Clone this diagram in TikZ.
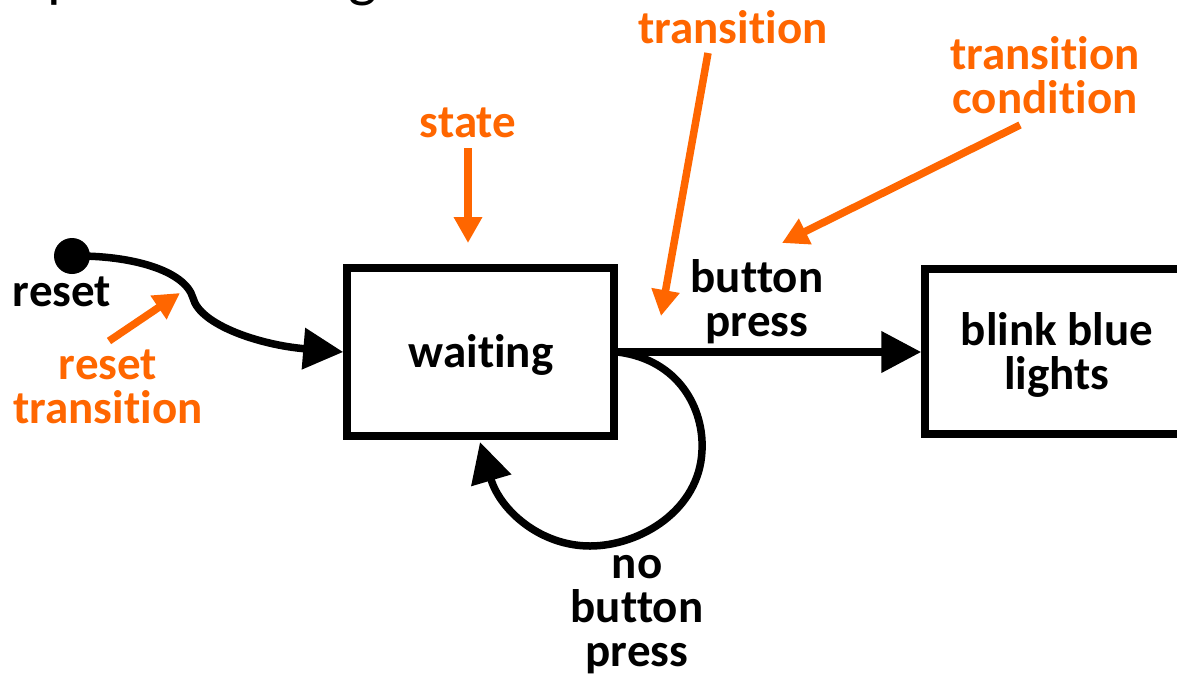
\documentclass[tikz,border=0pt]{standalone}
\usepackage{fontspec}
\setmainfont{Carlito}[RawFeature={-liga}]
\usetikzlibrary{arrows.meta}
\definecolor{accent}{RGB}{255,102,0}
\begin{document}
\begin{tikzpicture}[x=1pt,y=-1pt,
  lbl/.style={font=\bfseries\fontsize{47}{44}\selectfont, align=center, inner sep=0pt},
  note/.style={lbl, text=accent},
  statebox/.style={draw, line width=7.5pt, minimum width=267pt, minimum height=168pt, inner sep=0pt},
  flow/.style={line width=7.5pt, -{Triangle[length=40pt,width=40pt]}},
  pointer/.style={accent, line width=7.5pt, -{Triangle[length=26pt,width=27pt]}}]
\useasboundingbox (0,0) rectangle (1177,681);
\clip (0,0) rectangle (1177,681);

% heading, mostly above the visible area
\node[anchor=base west, inner sep=0pt, font=\fontsize{61}{61}\selectfont] (title) at (-86,-4.6) {Example state diagram};

% states
\node[statebox] (waiting) at (480.5,352) {};
\node[lbl] (waitingtext) at (481,355) {waiting};
\node[statebox, minimum width=275pt, minimum height=165pt] (blink) at (1062.5,351.5) {};
\node[lbl] (blinktext) at (1057,355) {blink blue\\lights};

% reset entry
\node[circle, fill, minimum size=36pt, inner sep=0pt] (dot) at (72,256) {};
\node[lbl] (reset) at (62,292) {reset};
\draw[flow] (dot.center) .. controls (130,255) and (185,270) .. (193,298)
  .. controls (200,325) and (260,345) .. (waiting.west);

% transitions
\draw[flow] (waiting.east) -- (waiting.east -| blink.west);
\node[lbl] (press) at (757,302) {button\\press};
\draw[flow] (waiting.east) .. controls (680,360) and (704,410) .. (702,450)
  .. controls (700,510) and (640,546) .. (590,546)
  .. controls (540,546) and (500,510) .. (480,442);
\node[lbl] (nopress) at (637,615) {no\\button\\press};

% annotations
\node[note] (statenote) at (468,123) {state};
\coordinate (stateTail) at (468,148);
\coordinate (stateTip) at (468,243);
\draw[pointer] (stateTail) -- (stateTip);

\node[note] (transnote) at (733,27) {transition};
\coordinate (transTail) at (708,53);
\coordinate (transTip) at (661,316);
\draw[pointer] (transTail) -- (transTip);

\node[note] (condnote) at (1045,75) {transition\\condition};
\coordinate (condTail) at (1020,125);
\coordinate (condTip) at (782,243);
\draw[pointer] (condTail) -- (condTip);

\node[note] (resetnote) at (108,387) {reset\\transition};
\coordinate (resetTail) at (109,341);
\coordinate (resetTip) at (180,293);
\draw[pointer] (resetTail) -- (resetTip);
\end{tikzpicture}
\end{document}
